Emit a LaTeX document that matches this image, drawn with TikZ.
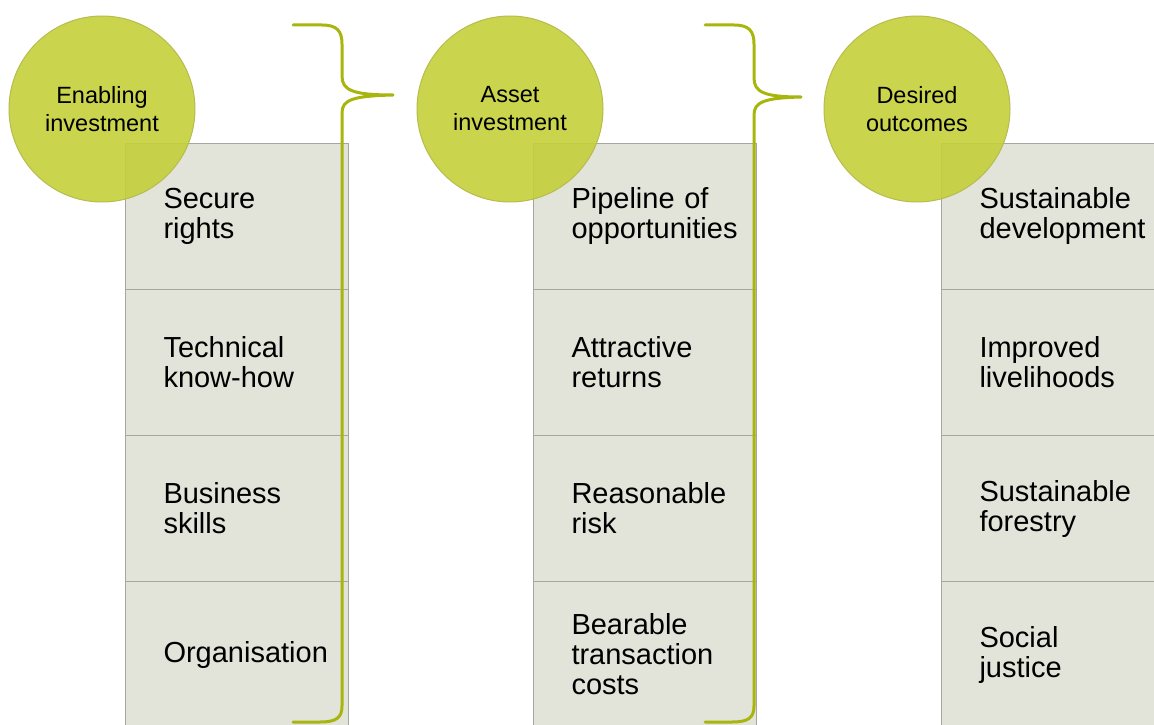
\documentclass[tikz,border=0pt]{standalone}
\usepackage{fontspec}
\setmainfont{Liberation Sans}
\definecolor{cellfill}{RGB}{226,227,217}
\definecolor{cellborder}{RGB}{165,166,158}
\definecolor{bracecol}{RGB}{168,181,12}
\definecolor{hubin}{RGB}{196,207,58}
\definecolor{hubout}{RGB}{226,236,86}
\definecolor{hubborder}{RGB}{182,188,78}
\pgfdeclareradialshading{hubshade}{\pgfpoint{0bp}{0bp}}{color(0bp)=(hubin); color(38bp)=(hubin); color(47bp)=(hubout); color(50bp)=(hubout)}
\begin{document}
\begin{tikzpicture}[x=1pt,y=-1pt,
  cell/.style={draw=cellborder, line width=1pt, fill=cellfill, minimum width=223pt, minimum height=146pt,
    text width=147pt, inner xsep=38pt, inner ysep=0pt, align=left, anchor=north west,
    font=\fontsize{29}{30}\selectfont},
  hub/.style={circle, minimum size=186pt, inner sep=0pt, draw=hubborder, line width=1pt,
    shading=hubshade, fill opacity=0.9, text opacity=1, draw opacity=1,
    align=center, font=\fontsize{23.5}{28}\selectfont},
  bracepath/.style={draw=bracecol, line width=3pt, line cap=round, line join=round}]
\useasboundingbox (0,0) rectangle (1154,725);
% column 1
\node[cell] (a1) at (125,143) {Secure\\rights};
\node[cell] (a2) at (125,289) {Technical\\know-how};
\node[cell] (a3) at (125,435) {Business\\skills};
\node[cell] (a4) at (125,581) {Organisation};
% column 2
\node[cell] (b1) at (533,143) {Pipeline of\\opportunities};
\node[cell] (b2) at (533,289) {Attractive\\returns};
\node[cell] (b3) at (533,435) {Reasonable\\risk};
\node[cell] (b4) at (533,581) {Bearable\\transaction\\costs};
% column 3
\node[cell] (c1) at (941,143) {Sustainable\\development};
\node[cell] (c2) at (941,289) {Improved\\livelihoods};
\node[cell] (c3) at (941,435) {Sustainable\\forestry};
\node[cell] (c4) at (941,581) {Social\\justice};
% hubs
\node[hub] (h1) at (102,109) {Enabling\\investment};
\node[hub] (h2) at (510,109) {Asset\\investment};
\node[hub] (h3) at (917,109) {Desired\\outcomes};
% braces
\coordinate (t1) at (393,95);
\coordinate (t2) at (801,97);
\draw[bracepath] (293,25) -- (322,25) .. controls (337,25) and (342,31) .. (342,44) -- (342,76)
  .. controls (342,90) and (352,95) .. (t1)
  .. controls (352,96) and (342,100) .. (342,113) -- (342,706)
  .. controls (342,718) and (336,722) .. (320,722) -- (293,722);
\draw[bracepath] (705,25) -- (734,25) .. controls (749,25) and (754,31) .. (754,44) -- (754,78)
  .. controls (754,92) and (764,97) .. (t2)
  .. controls (764,98) and (754,102) .. (754,115) -- (754,706)
  .. controls (754,718) and (748,722) .. (732,722) -- (705,722);
\end{tikzpicture}
\end{document}
